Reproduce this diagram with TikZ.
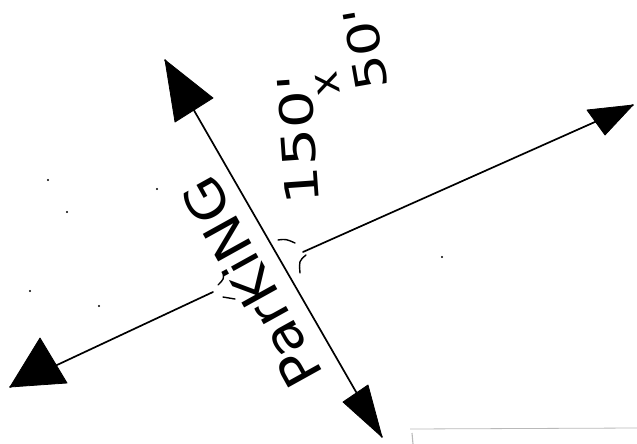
\documentclass[tikz,border=0pt]{standalone}
\usepackage{fontspec}
\usepackage{graphicx}
\newfontfamily\handfont{DejaVu Sans}
\begin{document}
\begin{tikzpicture}[x=1pt,y=-1pt, line join=round,
  road/.style={line width=1.7pt, line cap=round},
  head/.style={fill=black, draw=black, line width=0.8pt, line join=round},
  tickmark/.style={line width=1.4pt, line cap=round},
  hand/.style={inner sep=0pt},
  speck/.style={fill=black}]
\useasboundingbox (0,0) rectangle (637,444);
% end points
\coordinate (T) at (165,60);
\coordinate (B) at (382,437);
\coordinate (R0) at (303,252);
\coordinate (R) at (633,105);
\coordinate (L0) at (213,292);
\coordinate (L) at (10,387);
% roads
\draw[road] (T) -- (B);
\draw[road] (R0) -- (R);
\draw[road] (L0) -- (L);
% arrowheads
\fill[head] (T) -- (213,98) -- (175,122) -- cycle;
\fill[head] (B) -- (343,402) -- (368,385) -- cycle;
\fill[head] (R) -- (587,110) -- (605,135) -- cycle;
\fill[head] (L) -- (40,338) -- (67,383) -- cycle;
% crossing marks
\draw[tickmark] (278,240) .. controls (286,239) .. (295,243);
\draw[tickmark] (306,255) .. controls (299,261) .. (300,273);
\draw[tickmark] (223,272) .. controls (224,279) .. (218,285);
\draw[tickmark] (223,297) -- (235,299);
% labels
\node[hand, font=\handfont\fontsize{52}{52}\selectfont, anchor=base, rotate=119] (parking) at (268,273) {\scalebox{1.1}[1]{ParKiNG}};
\node[hand, font=\handfont\fontsize{46}{46}\selectfont, anchor=base, rotate=94] (dimA) at (315,138) {\scalebox{1.3}[1]{150'}};
\node[hand, font=\handfont\fontsize{40}{40}\selectfont, rotate=100] (times) at (328,84) {x};
\node[hand, font=\handfont\fontsize{44}{44}\selectfont, anchor=base, rotate=100] (dimB) at (381,46) {\scalebox{1.25}[1]{50'}};
% specks
\foreach \p in {(48,180),(67,212),(157,189),(30,291),(99,306),(442,257)}
  \fill[speck] \p circle (1.1);
% scan edge at bottom right
\draw[gray!55, line width=0.8pt] (410,429) -- (637,428);
\draw[gray!55, line width=1.1pt] (412,433) -- (413,444);
\end{tikzpicture}
\end{document}
